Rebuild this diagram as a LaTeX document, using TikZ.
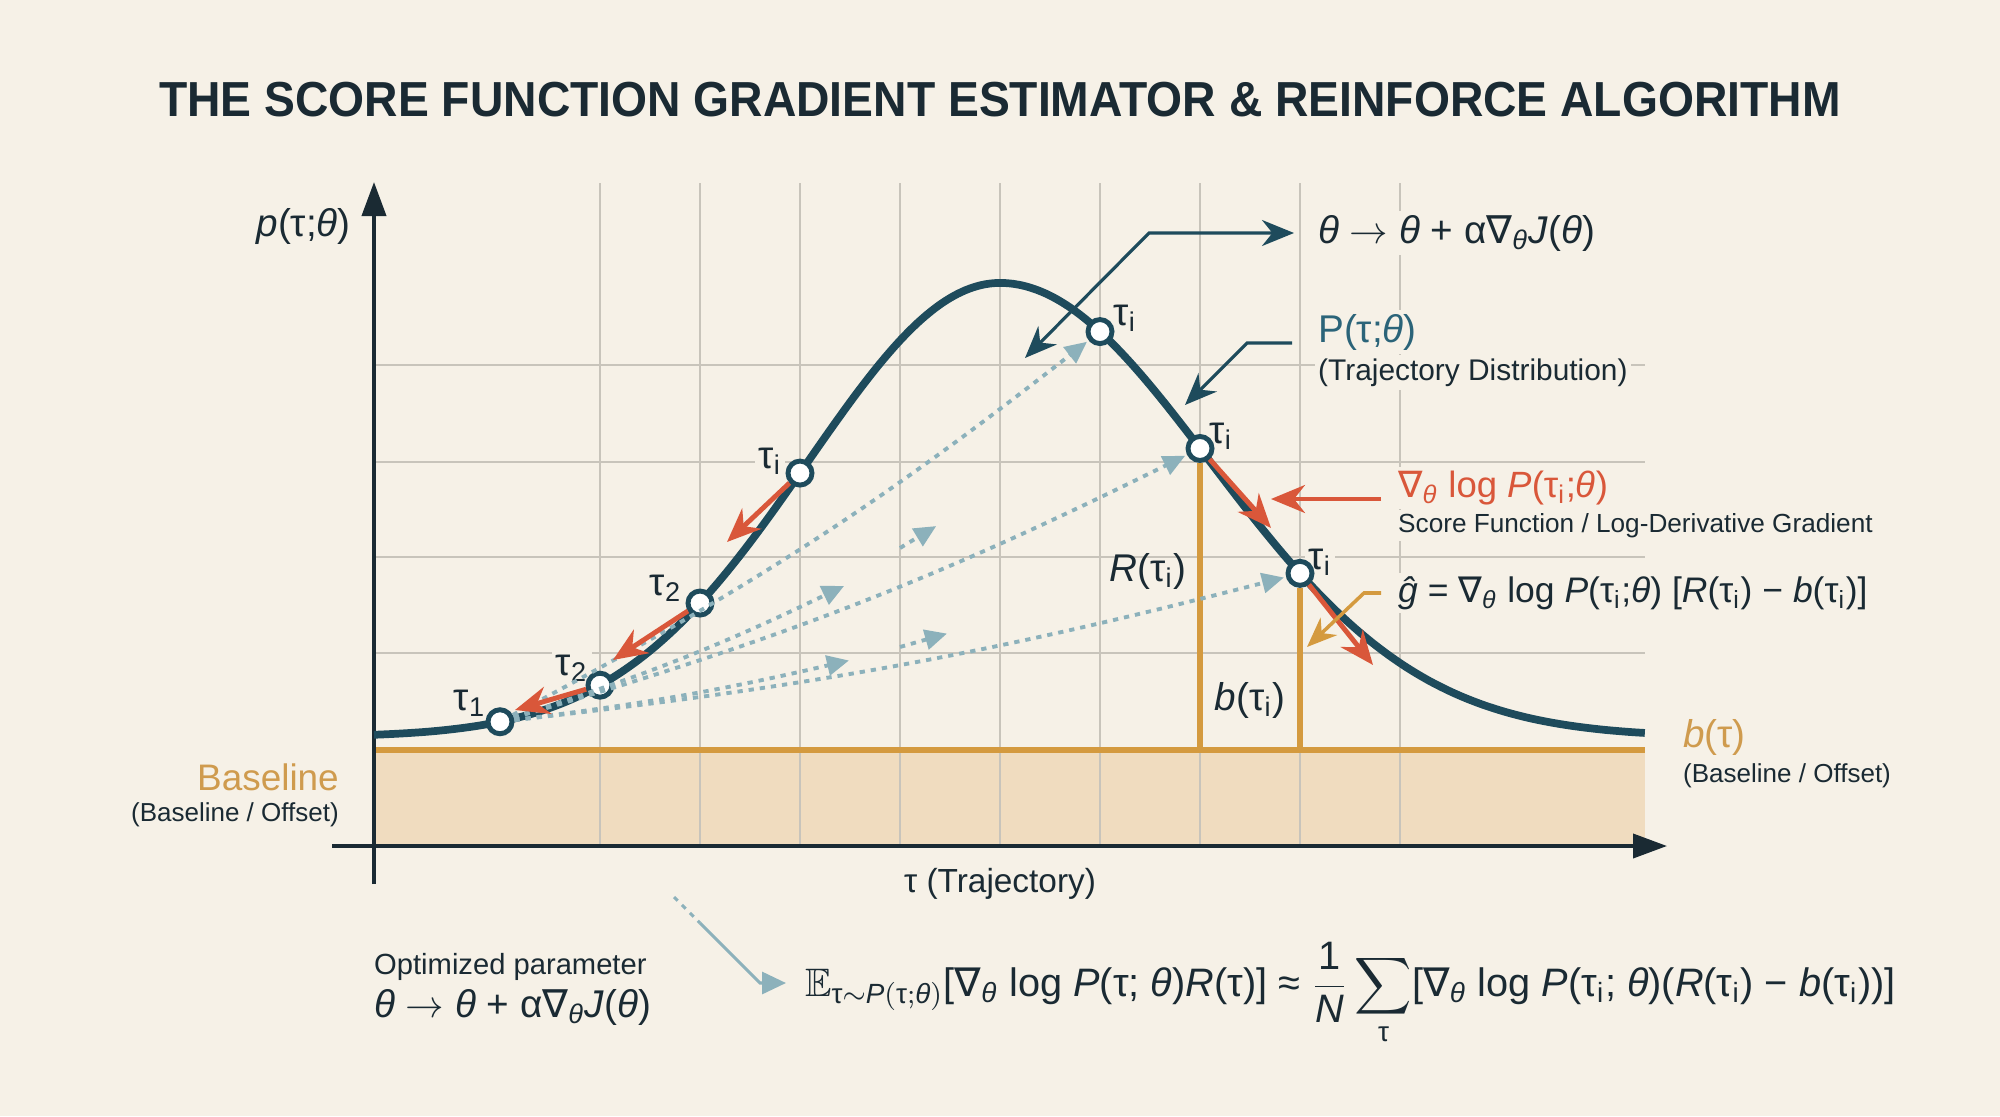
\documentclass[tikz,border=0pt]{standalone}
\usepackage{fontspec}
\usepackage{amsmath}
\usepackage{amssymb}
\usepackage{graphicx}
\setmainfont{Liberation Sans}
\newfontfamily\symfont{DejaVu Sans}
\usepackage{tikz}
\usetikzlibrary{arrows.meta}
\usetikzlibrary{positioning}

\definecolor{paper}{HTML}{F6F1E7}
\definecolor{ink}{HTML}{1A2A33}
\definecolor{curvec}{HTML}{1E4B5C}
\definecolor{distc}{HTML}{2B6479}
\definecolor{redgrad}{HTML}{D9573A}
\definecolor{goldc}{HTML}{D49A3F}
\definecolor{goldtxt}{HTML}{CF9B4E}
\definecolor{sand}{HTML}{F0DCBF}
\definecolor{gridc}{HTML}{C8C4BB}
\definecolor{dotc}{HTML}{8CB1BB}

\newcommand{\nab}{{\symfont ∇}}
\newcommand{\thi}{\textit{θ}}
\newcommand{\taui}{τ\textsubscript{i}}
\newcommand{\updrule}{\thi\ \(\rightarrow\) \thi\ + α\nab\textsubscript{\thi}\textit{J}(\thi)}

\pgfmathdeclarefunction{traj}{1}{%
  \pgfmathparse{(#1<10) ? 3.79+4.54*exp(-(#1-10)*(#1-10)/7.3728) : 3.79+4.54*exp(-(#1-10)*(#1-10)/8.82)}%
}

\begin{document}
\begin{tikzpicture}[
        title/.style={font=\fontsize{14}{16}\selectfont\bfseries, text=ink},
        lbl/.style={font=\fontsize{11}{13}\selectfont, text=ink, inner sep=1pt},
        note/.style={font=\fontsize{8.5}{10}\selectfont, text=ink, inner sep=1pt},
        gridline/.style={draw=gridc, line width=0.5pt},
        goldline/.style={draw=goldc, line width=1.8pt},
        axis/.style={draw=ink, line width=1.1pt, -{Triangle[length=3.4mm, width=2.4mm]}},
        pt/.style={circle, draw=curvec, line width=1.4pt, fill=white, inner sep=0pt, minimum size=2.4mm},
        gradarrow/.style={draw=redgrad, line width=1.4pt, >={Stealth[length=3.4mm, width=2.8mm]}},
        fanarrow/.style={draw=dotc, line width=1.1pt, dash pattern=on 1.5pt off 1.7pt, -{Triangle[length=2.2mm, width=2mm]}, shorten >=0.6pt},
        callout/.style={draw=curvec, line width=0.9pt, >={Stealth[length=3.2mm, width=2.6mm]}},
        goldcall/.style={draw=goldc, line width=1pt, >={Stealth[length=3mm, width=2.4mm]}},
        lightcall/.style={draw=dotc, line width=0.9pt, >={Triangle[length=2.4mm, width=2.2mm]}},
    ]
                \useasboundingbox (0,0) rectangle (20,11.16);
                \fill[paper] (0,0) rectangle (20,11.16);

                \node[title] (title) at (10,10.16) {\scalebox{0.94}[1]{THE SCORE FUNCTION GRADIENT ESTIMATOR \& REINFORCE ALGORITHM}};

                \fill[sand] (3.74,2.70) rectangle (16.45,3.66);

                \draw[gridline] (6,2.70) -- (6,9.33);
                \draw[gridline] (7,2.70) -- (7,9.33);
                \draw[gridline] (8,2.70) -- (8,9.33);
                \draw[gridline] (9,2.70) -- (9,9.33);
                \draw[gridline] (10,2.70) -- (10,9.33);
                \draw[gridline] (11,2.70) -- (11,9.33);
                \draw[gridline] (12,2.70) -- (12,9.33);
                \draw[gridline] (13,2.70) -- (13,9.33);
                \draw[gridline] (14,2.70) -- (14,9.33);
                \draw[gridline] (3.74,4.63) -- (16.45,4.63);
                \draw[gridline] (3.74,5.59) -- (16.45,5.59);
                \draw[gridline] (3.74,6.54) -- (16.45,6.54);
                \draw[gridline] (3.74,7.51) -- (16.45,7.51);

                \coordinate (base) at (3.74,3.66);
                \draw[goldline] (base) -- (16.45,3.66);

                \draw[axis] (3.32,2.70) -- (16.67,2.70);
                \draw[axis] (3.74,2.32) -- (3.74,9.34);

                \coordinate (t1) at (5,{traj(5)});
                \coordinate (t2) at (6,{traj(6)});
                \coordinate (t3) at (7,{traj(7)});
                \coordinate (t4) at (8,{traj(8)});
                \coordinate (t5) at (11,{traj(11)});
                \coordinate (t6) at (12,{traj(12)});
                \coordinate (t7) at (13,{traj(13)});

                \node[lbl, fill=paper] (l1) at (4.70,4.13) {τ\textsubscript{1}};
                \node[lbl, fill=paper] (l2) at (5.72,4.48) {τ\textsubscript{2}};
                \node[lbl, fill=paper] (l3) at (6.66,5.28) {τ\textsubscript{2}};
                \node[lbl, fill=paper] (l4) at (7.70,6.55) {\taui};
                \node[lbl, fill=paper] (l5) at (11.25,7.98) {\taui};
                \node[lbl, fill=paper] (l6) at (12.21,6.80) {\taui};
                \node[lbl, fill=paper] (l7) at (13.20,5.54) {\taui};

                \node[lbl, anchor=east] (ylab) at (3.55,8.89) {\textit{p}(τ;\thi)};
                \node[lbl, anchor=west, fill=paper] (upd) at (13.14,8.83) {\updrule};
                \node[lbl, anchor=west, fill=paper, text=distc] (dist) at (13.14,7.84) {P(τ;\thi)};
                \node[note, fill=paper, below=0pt of dist.south west, anchor=north west] (distsub) {(Trajectory Distribution)};
                \node[lbl, font=\fontsize{10.4}{12}\selectfont, anchor=west, fill=paper, text=redgrad] (nablbl) at (13.94,6.28) {\nab\textsubscript{\thi} log \textit{P}(\taui;\thi)};
                \node[note, fill=paper, font=\fontsize{7.45}{9}\selectfont, below=0pt of nablbl.south west, anchor=north west] (scorelbl) {Score Function / Log-Derivative Gradient};
                \node[lbl, font=\fontsize{10.1}{12}\selectfont, anchor=west, fill=paper] (ghat) at (13.94,5.23) {\textit{ĝ} = \nab\textsubscript{\thi} log \textit{P}(\taui;\thi) [\textit{R}(\taui) − \textit{b}(\taui)]};

                \node[lbl] (rlbl) at (11.48,5.45) {\textit{R}(\taui)};
                \node[lbl] (blbl) at (12.50,4.16) {\textit{b}(\taui)};
                \node[lbl, anchor=west, text=goldtxt] (btau) at (16.79,3.79) {\textit{b}(τ)};
                \node[note, font=\fontsize{7.4}{9}\selectfont, below=0pt of btau.south west, anchor=north west] (boffr) {(Baseline / Offset)};
                \node[lbl, anchor=east, text=goldtxt, font=\fontsize{10.5}{12}\selectfont] (baselbl) at (3.43,3.39) {Baseline};
                \node[note, font=\fontsize{7.4}{9}\selectfont, below=1pt of baselbl.south east, anchor=north east] (boffl) {(Baseline / Offset)};

                \node[lbl, font=\fontsize{9.5}{11}\selectfont] (xlab) at (10.00,2.32) {τ (Trajectory)};
                \node[note, anchor=west, font=\fontsize{8.3}{10}\selectfont] (optlbl) at (3.70,1.49) {Optimized parameter};
                \node[lbl, below=0pt of optlbl.south west, anchor=north west] (updlow) {\updrule};
                \node[lbl, font=\fontsize{11.3}{13}\selectfont, anchor=base west] (expect) at (8.01,1.20) {$\mathbb{E}_{\text{τ}\sim\textit{P}(\text{τ};\textit{θ})}$[\nab\textsubscript{\thi} log \textit{P}(τ; \thi)\textit{R}(τ)] ≈ $\dfrac{\text{1}}{\textit{N}}\displaystyle\sum_{\text{τ}}$[\nab\textsubscript{\thi} log \textit{P}(\taui; \thi)(\textit{R}(\taui) − \textit{b}(\taui))]};

                \draw[draw=curvec, line width=2.2pt] plot[domain=3.74:16.45, samples=160, smooth] (\x,{traj(\x)});

                \node[pt] (p1) at (t1) {};
                \node[pt] (p2) at (t2) {};
                \node[pt] (p3) at (t3) {};
                \node[pt] (p4) at (t4) {};
                \node[pt] (p5) at (t5) {};
                \node[pt] (p6) at (t6) {};
                \node[pt] (p7) at (t7) {};

                \draw[goldline] (p6) -- (p6 |- base);
                \draw[goldline] (p7) -- (p7 |- base);

                \coordinate (f4) at (8.46,5.31);
                \coordinate (f5) at (8.51,4.56);
                \coordinate (f6a) at (9.00,5.68);
                \coordinate (f6) at (9.38,5.91);
                \coordinate (f7a) at (9.00,4.69);
                \coordinate (f7) at (9.49,4.83);
                \draw[fanarrow] (p1) to[bend right=5] (p5);
                \draw[fanarrow] (p1) to[bend right=5] (p6);
                \draw[fanarrow] (p1) to[bend right=4] (p7);
                \draw[fanarrow] (p1) to[bend right=4] (f4);
                \draw[fanarrow] (p1) to[bend right=3] (f5);
                \draw[fanarrow] (f6a) -- (f6);
                \draw[fanarrow] (f7a) -- (f7);

                \coordinate (g2) at (5.15,4.06);
                \coordinate (g3) at (6.13,4.56);
                \coordinate (g4) at (7.27,5.74);
                \coordinate (g6) at (12.71,5.88);
                \coordinate (g7) at (13.73,4.51);
                \draw[gradarrow, ->] (p2) -- (g2);
                \draw[gradarrow, ->] (p3) -- (g3);
                \draw[gradarrow, ->] (p4) -- (g4);
                \draw[gradarrow, ->] (p6) -- (g6);
                \draw[gradarrow, ->] (p7) -- (g7);

                \coordinate (updtip) at (10.25,7.58);
                \coordinate (updbend) at (11.49,8.82);
                \draw[callout, <->] (updtip) -- (updbend |- upd.west) -- ([xshift=-2mm]upd.west);

                \coordinate (distbend) at (12.47,7.73);
                \coordinate (disttip) at (11.85,7.11);
                \draw[callout, ->] ([xshift=-2.2mm]dist.west |- distbend) -- (distbend) -- (disttip);

                \coordinate (scoretip) at (12.71,6.17);
                \draw[gradarrow, line width=1.2pt, ->] ([xshift=-1.3mm]nablbl.west |- scoretip) -- (scoretip);

                \coordinate (ghatbend) at (13.64,5.23);
                \coordinate (ghattip) at (13.07,4.69);
                \draw[goldcall, ->] ([xshift=-1.3mm]ghat.west) -- (ghatbend |- ghat.west) -- (ghattip);

                \coordinate (lt0) at (6.74,2.19);
                \coordinate (lt1) at (7.00,1.93);
                \coordinate (lt2) at (7.60,1.33);
                \draw[draw=dotc, line width=0.9pt, dash pattern=on 1.5pt off 1.7pt] (lt0) -- (lt1);
                \draw[lightcall, ->] (lt1) -- (lt2) -- ([xshift=-1.5mm]expect.west |- lt2);
\end{tikzpicture}
\end{document}
